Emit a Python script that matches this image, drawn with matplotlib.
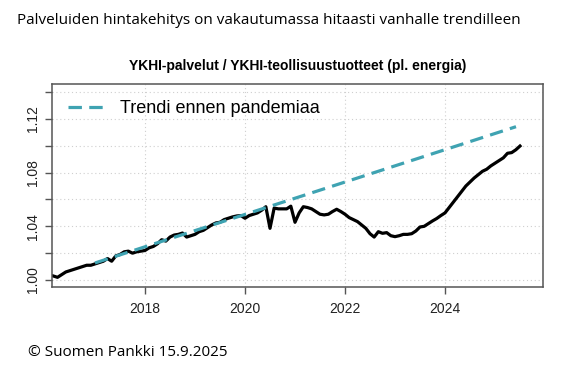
import numpy as np
import matplotlib
matplotlib.use("Agg")
import matplotlib.pyplot as plt

# monthly ratio, Mar 2016 .. Jul 2025
start_year = 2016
start_month = 3
ratio = [
    # 2016 (Mar-Dec)
    1.003, 1.002, 1.004, 1.006, 1.007, 1.008, 1.009, 1.010, 1.011, 1.011,
    # 2017
    1.012, 1.013, 1.014, 1.016, 1.014, 1.018, 1.019, 1.021, 1.0215, 1.020, 1.021, 1.0215,
    # 2018
    1.022, 1.024, 1.025, 1.027, 1.030, 1.029, 1.032, 1.0335, 1.034, 1.035, 1.032, 1.033,
    # 2019
    1.034, 1.036, 1.037, 1.039, 1.041, 1.0425, 1.043, 1.045, 1.046, 1.047, 1.0477, 1.048,
    # 2020
    1.046, 1.048, 1.049, 1.050, 1.052, 1.0546, 1.0385, 1.0536, 1.053, 1.053, 1.053, 1.055,
    # 2021
    1.043, 1.050, 1.0546, 1.054, 1.053, 1.051, 1.049, 1.0485, 1.049, 1.051, 1.0527, 1.051,
    # 2022
    1.049, 1.0465, 1.045, 1.0435, 1.041, 1.0385, 1.0345, 1.032, 1.036, 1.0348, 1.0353, 1.033,
    # 2023
    1.0323, 1.033, 1.034, 1.034, 1.0345, 1.0365, 1.0395, 1.040, 1.042, 1.044, 1.0458, 1.048,
    # 2024
    1.050, 1.054, 1.058, 1.062, 1.066, 1.070, 1.073, 1.076, 1.0785, 1.081, 1.0825, 1.085,
    # 2025 (Jan-Jul)
    1.087, 1.089, 1.091, 1.0944, 1.0949, 1.097, 1.0998,
]

# pre-pandemic trend (start and end points)
trend_x = [2017.0, 2025.42]
trend_y = [1.0127, 1.1142]

title_top = "Palveluiden hintakehitys on vakautumassa hitaasti vanhalle trendilleen"
chart_title = "YKHI-palvelut / YKHI-teollisuustuotteet (pl. energia)"
legend_label = "Trendi ennen pandemiaa"
footer = "\u00a9 Suomen Pankki 15.9.2025"

x_ticks = [2018, 2020, 2022, 2024]
y_ticks = [1.00, 1.02, 1.04, 1.06, 1.08, 1.10, 1.12, 1.14]
y_labels = ["1.00", "", "1.04", "", "1.08", "", "1.12", ""]

t = start_year + (start_month - 1) / 12 + np.arange(len(ratio)) / 12

plt.rcParams["font.family"] = ["Liberation Sans", "DejaVu Sans"]

fig = plt.figure(figsize=(5.82, 3.75), dpi=100)
ax = fig.add_axes([52 / 582, 1 - 287 / 375, (543 - 52) / 582, (287 - 84) / 375])

teal = "#3fa3b2"
ax.plot(t, ratio, color="black", lw=2.3, solid_joinstyle="round", zorder=2)
ax.plot(trend_x, trend_y, color=teal, lw=2.3, dashes=(4.2, 2.3), label=legend_label, zorder=3)

ax.set_xlim(2016.14, 2025.96)
ax.set_ylim(0.9948, 1.146)
ax.set_xticks(x_ticks)
ax.set_xticklabels([str(v) for v in x_ticks])
ax.set_yticks(y_ticks)
ax.set_yticklabels(y_labels, rotation=90, va="center")

ax.grid(True, color="#cfcfcf", ls=(0, (1, 2.5)), lw=0.8)
for s in ax.spines.values():
    s.set_color("#555555")
    s.set_linewidth(1.1)
ax.tick_params(colors="#555555", labelcolor="#222222", labelsize=10, length=5, width=1)
ax.tick_params(axis="y", pad=4)
ax.tick_params(axis="x", pad=6)

ax.legend(loc="upper left", frameon=False, fontsize=13, handlelength=1.95,
          handletextpad=0.9, borderaxespad=0.45, borderpad=0.45)

ax.set_title(chart_title, fontsize=10, fontweight="bold", pad=10)

fig.text(17 / 582, 1 - 20 / 375, title_top, fontsize=11, va="center", ha="left",
         family=["Open Sans", "DejaVu Sans"])
fig.text(28 / 582, 1 - 353 / 375, footer, fontsize=11, va="center", ha="left",
         family=["Open Sans", "DejaVu Sans"])

fig.savefig("out.png", dpi=100)
